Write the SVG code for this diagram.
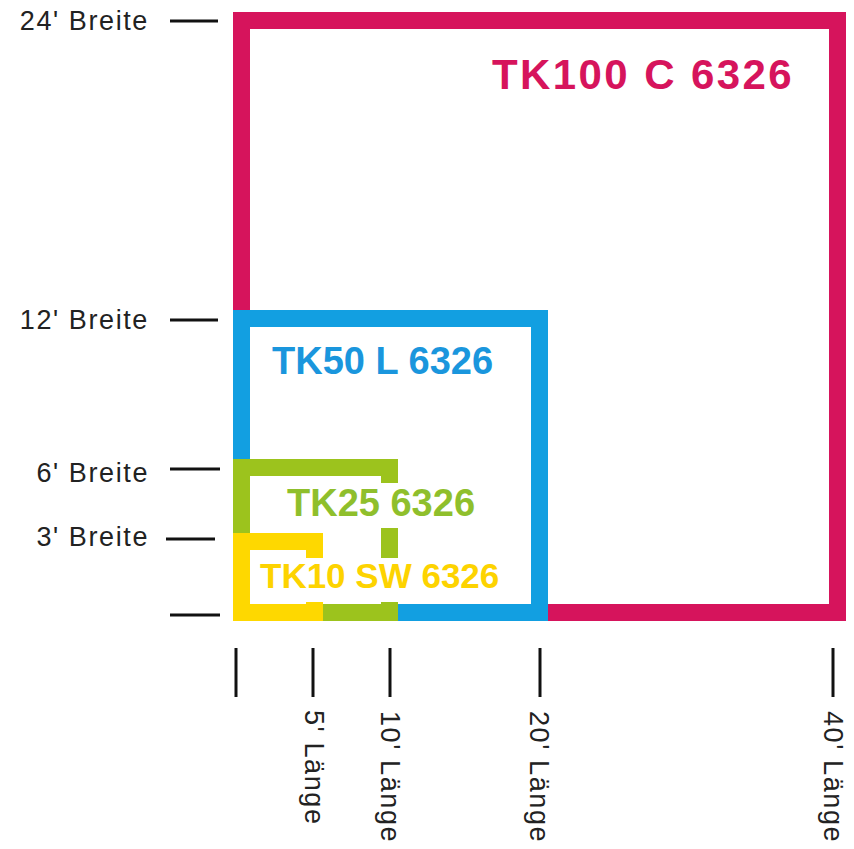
<svg xmlns="http://www.w3.org/2000/svg" width="854" height="849" viewBox="0 0 854 849">
<style>
.frame{fill:none;stroke-width:17;stroke-linejoin:miter}
.tick{stroke:#111;stroke-width:3}
.lbl{font-family:"Liberation Sans",Arial,sans-serif;font-size:27px;fill:#222;letter-spacing:1.6px}
.name{font-family:"Liberation Sans",Arial,sans-serif;font-weight:bold}
.mask{fill:#fff}
</style>
<rect width="854" height="849" fill="#fff"/>
<g id="tk100">
<rect class="frame" x="241.5" y="20.5" width="596" height="592" stroke="#d6145c"/>
<text class="name" x="492" y="89" font-size="42" letter-spacing="2.4" fill="#d6145c">TK100 C 6326</text>
</g>
<g id="tk50">
<rect class="frame" x="241.5" y="318.5" width="298" height="294" stroke="#129fe1"/>
<text class="name" x="272" y="374" font-size="38" fill="#1a96dd">TK50 L 6326</text>
</g>
<g id="tk25">
<rect class="frame" x="241.5" y="467.5" width="148" height="145" stroke="#9cc31d"/>
</g>
<g id="tk10">
<rect class="frame" x="241.5" y="541.5" width="73" height="71" stroke="#fed800"/>
</g>
<g id="labels-inner">
<rect class="mask" x="280" y="483" width="200" height="45"/>
<text class="name" x="287" y="516" font-size="38" fill="#8fbf2c">TK25 6326</text>
<rect class="mask" x="254" y="558" width="252" height="44"/>
<text class="name" x="260" y="588" font-size="35" fill="#fdd300">TK10 SW 6326</text>
</g>
<g id="connectors">
<line class="tick" x1="170" y1="21" x2="218" y2="21"/>
<line class="tick" x1="170" y1="320" x2="218" y2="320"/>
<line class="tick" x1="170" y1="469" x2="220" y2="469"/>
<line class="tick" x1="166" y1="539" x2="215" y2="539"/>
<line class="tick" x1="170" y1="615" x2="220" y2="615"/>
<line class="tick" x1="236" y1="648" x2="236" y2="697"/>
<line class="tick" x1="313" y1="648" x2="313" y2="697"/>
<line class="tick" x1="390" y1="648" x2="390" y2="697"/>
<line class="tick" x1="540" y1="648" x2="540" y2="697"/>
<line class="tick" x1="833" y1="648" x2="833" y2="697"/>
</g>
<g id="width-labels">
<text class="lbl" x="149" y="30" text-anchor="end">24' Breite</text>
<text class="lbl" x="149" y="329" text-anchor="end">12' Breite</text>
<text class="lbl" x="149" y="482" text-anchor="end">6' Breite</text>
<text class="lbl" x="149" y="546" text-anchor="end">3' Breite</text>
</g>
<g id="length-labels">
<text class="lbl" transform="translate(305,710) rotate(90)">5' Länge</text>
<text class="lbl" transform="translate(381,711) rotate(90)">10' Länge</text>
<text class="lbl" transform="translate(530,711) rotate(90)">20' Länge</text>
<text class="lbl" transform="translate(824,711) rotate(90)">40' Länge</text>
</g>
</svg>
